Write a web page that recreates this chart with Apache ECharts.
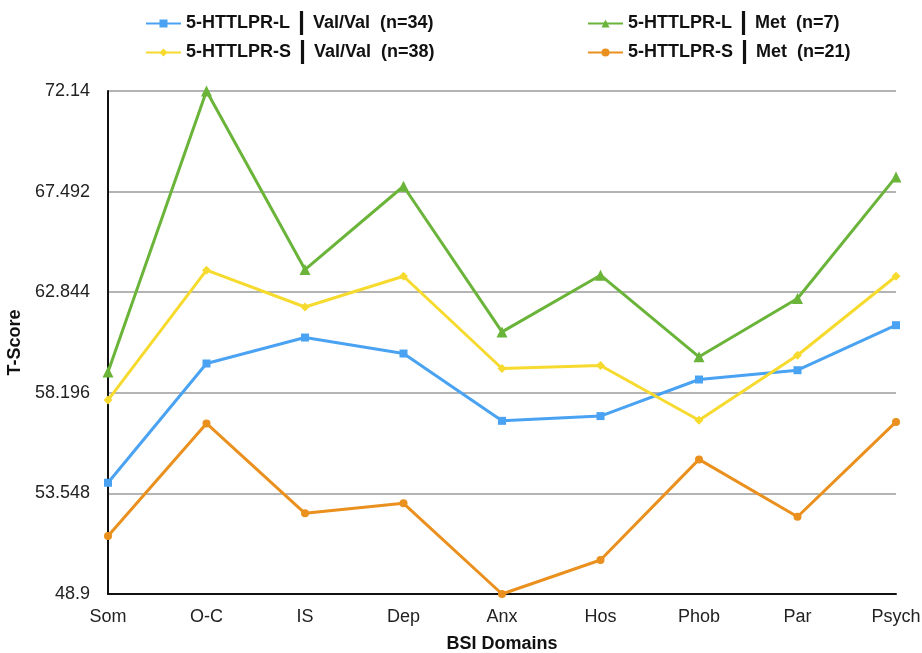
<!DOCTYPE html>
<html>
<head>
<meta charset="utf-8">
<script src="https://cdn.jsdelivr.net/npm/echarts@6/dist/echarts.min.js"></script>
<style>
  html, body { margin: 0; padding: 0; background: #fff; }
  #chart { width: 922px; height: 653px; }
</style>
</head>
<body>
<div id="chart"></div>
<script>
var domains = ["Som", "O-C", "IS", "Dep", "Anx", "Hos", "Phob", "Par", "Psych"];
var yTicks = [48.9, 53.548, 58.196, 62.844, 67.492, 72.14];

var lValVal = [54.04, 59.55, 60.75, 60.01, 56.9, 57.12, 58.81, 59.24, 61.32];
var lMet = [59.16, 72.14, 63.89, 67.74, 61.01, 63.63, 59.86, 62.55, 68.17];
var sValVal = [57.86, 63.86, 62.16, 63.58, 59.32, 59.46, 56.93, 59.93, 63.58];
var sMet = [51.58, 56.78, 52.63, 53.09, 48.9, 50.47, 55.12, 52.47, 56.85];

var names = [
  "5-HTTLPR-L | Val/Val  (n=34)",
  "5-HTTLPR-L | Met  (n=7)",
  "5-HTTLPR-S | Val/Val  (n=38)",
  "5-HTTLPR-S | Met  (n=21)"
];

var FONT = "Liberation Sans, Arial, sans-serif";
var chart = echarts.init(document.getElementById("chart"));

function line(name, data, color, symbol, size) {
  return {
    name: name,
    type: "line",
    data: data,
    symbol: symbol,
    symbolSize: size,
    itemStyle: { color: color },
    lineStyle: { color: color, width: 3 }
  };
}

var legendText = {
  fontFamily: FONT,
  fontSize: 18,
  fontWeight: "bold",
  color: "#111",
  rich: {
    bar: { fontSize: 25, fontWeight: "bold", color: "#111", padding: [0, 3, 0, 3] }
  }
};
function legendFmt(n) {
  return n.replace(" | ", " {bar||} ");
}

var option = {
  backgroundColor: "#fff",
  animation: false,
  legend: [
    {
      data: [names[0], names[2]],
      orient: "vertical",
      left: 140,
      top: 6,
      itemWidth: 35,
      itemHeight: 10,
      itemGap: 4,
      textStyle: legendText,
      formatter: legendFmt
    },
    {
      data: [names[1], names[3]],
      orient: "vertical",
      left: 582,
      top: 6,
      itemWidth: 35,
      itemHeight: 10,
      itemGap: 4,
      textStyle: legendText,
      formatter: legendFmt
    }
  ],
  grid: { left: 108, right: 26, top: 91, bottom: 59, outerBoundsMode: "none" },
  xAxis: {
    type: "category",
    data: domains,
    boundaryGap: false,
    name: "BSI Domains",
    nameLocation: "middle",
    nameGap: 41,
    nameTextStyle: { fontFamily: FONT, fontSize: 18, fontWeight: "bold", color: "#111" },
    axisLine: { lineStyle: { color: "#111", width: 2 } },
    axisTick: { show: false },
    axisLabel: { fontFamily: FONT, fontSize: 18, color: "#222", margin: 14 }
  },
  yAxis: {
    type: "value",
    min: yTicks[0],
    max: yTicks[yTicks.length - 1],
    interval: yTicks[1] - yTicks[0],
    name: "T-Score",
    nameLocation: "middle",
    nameRotate: 90,
    nameGap: 77,
    nameTextStyle: { fontFamily: FONT, fontSize: 18, fontWeight: "bold", color: "#111" },
    axisLine: { show: true, lineStyle: { color: "#111", width: 2 } },
    axisTick: { show: false },
    axisLabel: {
      fontFamily: FONT,
      fontSize: 18,
      color: "#222",
      margin: 18,
      formatter: function (v) { return String(+v.toFixed(3)); }
    },
    splitLine: { lineStyle: { color: "#b4b4b4", width: 2 } }
  },
  series: [
    line(names[0], lValVal, "#4aa3f2", "rect", 8),
    line(names[1], lMet, "#6ab43a", "triangle", 11),
    line(names[2], sValVal, "#f6da2e", "diamond", 9),
    line(names[3], sMet, "#ea901e", "circle", 8)
  ]
};

chart.setOption(option);
</script>
</body>
</html>
